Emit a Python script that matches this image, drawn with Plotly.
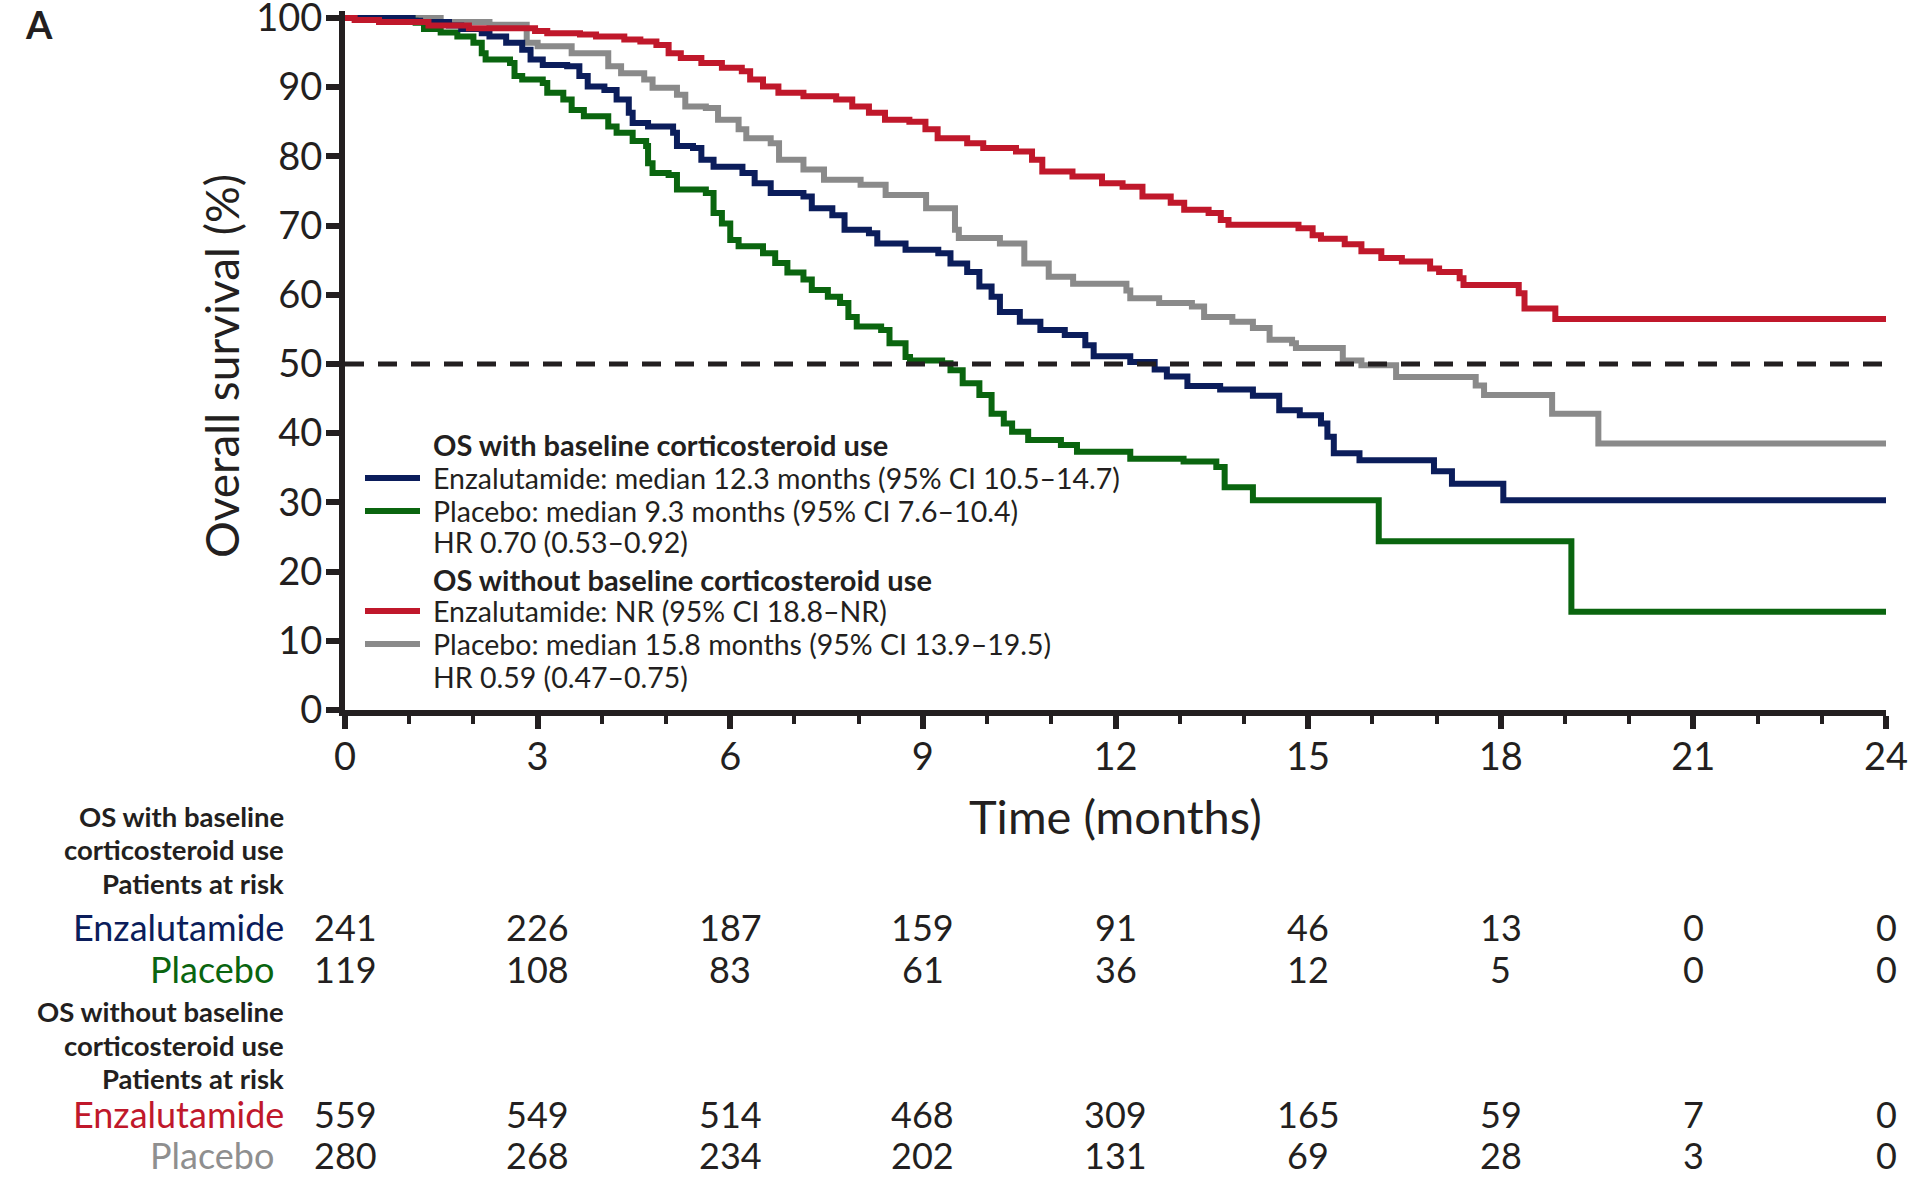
import plotly.graph_objects as go

# ---------------- data ----------------
time_ticks = [0, 3, 6, 9, 12, 15, 18, 21, 24]
y_ticks = [0, 10, 20, 30, 40, 50, 60, 70, 80, 90, 100]
median_level = 50

# OS with baseline corticosteroid use - Enzalutamide
t_enz_cs = [0, 1.05, 1.17, 1.62, 1.81, 2.13, 2.25, 2.51, 2.76, 2.89,
            3.08, 3.46, 3.65, 3.78, 4.04, 4.23, 4.42, 4.48, 4.72, 5.11,
            5.17, 5.42, 5.55, 5.74, 6.19, 6.38, 6.63, 7.14, 7.27, 7.59,
            7.78, 8.16, 8.29, 8.73, 9.24, 9.43, 9.69, 9.88, 10.07, 10.2,
            10.51, 10.83, 11.21, 11.53, 11.66, 12.23, 12.61, 12.8, 13.12, 13.63,
            14.14, 14.55, 14.87, 15.2, 15.3, 15.4, 15.8, 16.96, 17.24, 18.04, 24]
s_enz_cs = [100, 99.6, 99.4, 98.9, 98.4, 97.8, 97.3, 96.4, 95.4, 94.0,
            93.2, 93.0, 91.6, 90.1, 89.6, 88.2, 86.3, 84.8, 84.3, 83.4,
            81.5, 81.2, 79.5, 78.5, 77.6, 76.1, 74.7, 74.2, 72.5, 71.5,
            69.4, 68.9, 67.4, 66.5, 66.0, 64.5, 63.3, 61.2, 59.7, 57.5,
            56.1, 54.9, 54.2, 52.7, 51.1, 50.3, 49.2, 48.2, 46.8, 46.3,
            45.4, 43.3, 42.6, 41.4, 39.5, 37.1, 36.1, 34.5, 32.7, 30.3, 30.3]

# OS with baseline corticosteroid use - Placebo
t_pla_cs = [0, 1.05, 1.1, 1.23, 1.49, 1.75, 2.0, 2.13, 2.19, 2.57,
            2.64, 2.76, 3.08, 3.15, 3.4, 3.53, 3.72, 4.1, 4.23, 4.48,
            4.69, 4.72, 4.79, 5.04, 5.17, 5.62, 5.74, 5.87, 6.0, 6.13,
            6.51, 6.7, 6.89, 7.14, 7.27, 7.52, 7.71, 7.84, 7.97, 8.35,
            8.48, 8.73, 8.8, 9.3, 9.43, 9.62, 9.88, 10.07, 10.26, 10.39,
            10.64, 11.15, 11.4, 12.23, 13.06, 13.57, 13.7, 14.14, 16.1, 19.1, 24]
s_pla_cs = [100, 99.6, 99.3, 98.4, 97.9, 97.3, 96.4, 94.9, 94.0, 93.5,
            91.6, 91.1, 90.6, 89.2, 88.2, 86.7, 85.8, 84.3, 83.4, 82.2,
            81.5, 79.0, 77.6, 77.3, 75.2, 74.7, 71.8, 70.3, 67.9, 67.0,
            66.0, 64.6, 63.2, 62.2, 60.7, 59.7, 58.8, 56.8, 55.4, 54.9,
            53.0, 51.0, 50.5, 50.1, 49.1, 47.2, 45.5, 42.8, 41.4, 40.2,
            39.0, 38.3, 37.3, 36.3, 35.9, 35.1, 32.2, 30.3, 24.4, 14.2, 14.2]

# OS without baseline corticosteroid use - Enzalutamide
t_enz_nocs = [0, 0.15, 0.53, 1.3, 1.93, 2.96, 3.15, 3.66, 3.91, 4.35,
              4.6, 4.85, 5.04, 5.23, 5.55, 5.87, 6.18, 6.31, 6.51, 6.75,
              7.14, 7.65, 7.9, 8.16, 8.41, 8.79, 9.04, 9.23, 9.69, 9.94,
              10.45, 10.7, 10.86, 11.33, 11.79, 12.11, 12.42, 12.86, 13.07, 13.45,
              13.64, 13.76, 14.85, 15.07, 15.2, 15.57, 15.83, 16.14, 16.46, 16.9,
              17.04, 17.36, 17.42, 18.28, 18.37, 18.85, 24]
s_enz_nocs = [100, 99.7, 99.4, 98.9, 98.5, 98.1, 97.8, 97.6, 97.3, 96.9,
              96.6, 96.1, 94.9, 94.2, 93.5, 92.8, 92.3, 91.1, 90.1, 89.2,
              88.7, 88.2, 87.2, 86.3, 85.3, 85.0, 83.9, 82.6, 81.9, 81.2,
              80.7, 79.5, 77.8, 77.1, 76.1, 75.6, 74.2, 73.3, 72.3, 71.8,
              70.8, 70.1, 69.6, 68.6, 68.1, 67.3, 66.3, 65.3, 64.8, 63.8,
              63.3, 62.4, 61.4, 60.2, 58.0, 56.5, 56.5]

# OS without baseline corticosteroid use - Placebo
t_pla_nocs = [0, 1.49, 2.25, 2.83, 3.0, 3.53, 4.1, 4.3, 4.66, 4.79,
              5.17, 5.3, 5.62, 5.81, 6.13, 6.25, 6.63, 6.76, 7.14, 7.46,
              8.03, 8.42, 9.05, 9.5, 9.56, 10.2, 10.58, 10.96, 11.34, 12.17,
              12.23, 12.68, 13.19, 13.38, 13.82, 14.14, 14.4, 14.75, 14.81, 15.54,
              15.83, 16.37, 17.61, 17.74, 18.8, 19.52, 24]
s_pla_nocs = [100, 99.4, 99.0, 96.4, 95.9, 94.9, 93.0, 92.0, 91.1, 89.9,
              88.9, 87.2, 87.0, 85.3, 83.9, 82.6, 81.9, 79.5, 78.1, 76.6,
              75.9, 74.4, 72.5, 69.4, 68.2, 67.4, 64.5, 62.6, 61.6, 60.6,
              59.5, 58.8, 58.3, 56.8, 56.1, 55.2, 53.5, 53.0, 52.3, 50.5,
              49.8, 48.1, 46.9, 45.5, 42.8, 38.5, 38.5]

# Patients at risk
risk_enz_cs = [241, 226, 187, 159, 91, 46, 13, 0, 0]
risk_pla_cs = [119, 108, 83, 61, 36, 12, 5, 0, 0]
risk_enz_nocs = [559, 549, 514, 468, 309, 165, 59, 7, 0]
risk_pla_nocs = [280, 268, 234, 202, 131, 69, 28, 3, 0]

legend_group1 = "OS with baseline corticosteroid use"
legend_enz_cs = "Enzalutamide: median 12.3 months (95% CI 10.5–14.7)"
legend_pla_cs = "Placebo: median 9.3 months (95% CI 7.6–10.4)"
legend_hr1 = "HR 0.70 (0.53–0.92)"
legend_group2 = "OS without baseline corticosteroid use"
legend_enz_nocs = "Enzalutamide: NR (95% CI 18.8–NR)"
legend_pla_nocs = "Placebo: median 15.8 months (95% CI 13.9–19.5)"
legend_hr2 = "HR 0.59 (0.47–0.75)"

# ---------------- style ----------------
NAVY = "#0b1d5b"
GREEN = "#0a650f"
RED = "#c0182b"
GREY = "#8a8a8a"
GREY_TXT = "#8f8f8f"
INK = "#231f20"
FONT = "Lato"

W, H = 1920, 1188
L, R, T, B = 345, 34, 11, 478
PW, PH = W - L - R, H - T - B
Y_MAX = 101


def px_y(p):
    return (H - B - p) / PH


def px_x(p):
    return (p - L) / PW


fig = go.Figure()

curves = [
    (t_pla_nocs, s_pla_nocs, GREY),
    (t_pla_cs, s_pla_cs, GREEN),
    (t_enz_cs, s_enz_cs, NAVY),
    (t_enz_nocs, s_enz_nocs, RED),
]
for t, s, c in curves:
    fig.add_trace(go.Scatter(x=t, y=s, mode="lines",
                             line=dict(color=c, width=6, shape="hv"),
                             showlegend=False, hoverinfo="skip"))

fig.add_trace(go.Scatter(x=[time_ticks[0], time_ticks[-1]], y=[median_level, median_level],
                         mode="lines", line=dict(color=INK, width=5, dash="19px,14px"),
                         showlegend=False, hoverinfo="skip"))

annotations = []
shapes = []

# Legend block (positions in pixels of the plot frame)
leg_text_dx = 86      # px right of the y axis
leg_line_dx0, leg_line_dx1 = 20, 75
legend_rows = [
    (legend_group1, None, 266, True),
    (legend_enz_cs, NAVY, 232, False),
    (legend_pla_cs, GREEN, 199, False),
    (legend_hr1, None, 168, False),
    (legend_group2, None, 131, True),
    (legend_enz_nocs, RED, 99, False),
    (legend_pla_nocs, GREY, 66, False),
    (legend_hr2, None, 33, False),
]
YPX = PH / Y_MAX  # pixels per percent
XPX = PW / 24
for text, col, hpx, bold in legend_rows:
    yv = hpx / YPX
    annotations.append(dict(
        x=leg_text_dx / XPX, y=yv, xref="x", yref="y",
        text=f"<b>{text}</b>" if bold else text, showarrow=False,
        xanchor="left", yanchor="middle",
        font=dict(family=FONT, size=29 if bold else 28.5, color=INK)))
    if col:
        shapes.append(dict(type="line", xref="x", yref="y",
                           x0=leg_line_dx0 / XPX, x1=leg_line_dx1 / XPX,
                           y0=yv, y1=yv,
                           line=dict(color=col, width=6)))

# Axis titles
annotations.append(dict(x=0.5, y=px_y(816), xref="paper", yref="paper",
                        text="Time (months)", showarrow=False,
                        xanchor="center", yanchor="middle",
                        font=dict(family=FONT, size=47, color=INK)))
annotations.append(dict(x=px_x(221), y=px_y(366), xref="paper", yref="paper",
                        text="Overall survival (%)", showarrow=False, textangle=-90,
                        xanchor="center", yanchor="middle",
                        font=dict(family=FONT, size=46, color=INK)))

# Panel letter
annotations.append(dict(x=px_x(23), y=px_y(24), xref="paper", yref="paper",
                        text="<b>A</b>", showarrow=False,
                        xanchor="left", yanchor="middle",
                        font=dict(family=FONT, size=38, color=INK)))

# Risk table
label_right = px_x(286)
headers = [
    ("OS with baseline", 816), ("corticosteroid use", 850), ("Patients at risk", 883),
    ("OS without baseline", 1011), ("corticosteroid use", 1045), ("Patients at risk", 1078),
]
for text, ypx in headers:
    annotations.append(dict(x=label_right, y=px_y(ypx), xref="paper", yref="paper",
                            text=f"<b>{text}</b>", showarrow=False,
                            xanchor="right", yanchor="middle",
                            font=dict(family=FONT, size=27.5, color=INK)))

risk_rows = [
    ("Enzalutamide", NAVY, risk_enz_cs, 927, 286),
    ("Placebo", GREEN, risk_pla_cs, 969, 276),
    ("Enzalutamide", RED, risk_enz_nocs, 1114, 286),
    ("Placebo", GREY_TXT, risk_pla_nocs, 1155, 276),
]
for name, col, vals, ypx, xr in risk_rows:
    annotations.append(dict(x=px_x(xr), y=px_y(ypx), xref="paper", yref="paper",
                            text=name, showarrow=False,
                            xanchor="right", yanchor="middle",
                            font=dict(family=FONT, size=36, color=col)))
    for tx, v in zip(time_ticks, vals):
        annotations.append(dict(x=tx, y=px_y(ypx), xref="x", yref="paper",
                                text=str(v), showarrow=False,
                                xanchor="center", yanchor="middle",
                                font=dict(family=FONT, size=36, color=INK)))

axis_common = dict(showline=True, linewidth=6, linecolor=INK, ticks="outside",
                   ticklen=13, tickwidth=6, tickcolor=INK, showgrid=False,
                   zeroline=False, ticklabeloverflow="allow", automargin=False,
                   tickfont=dict(family=FONT, size=38, color=INK))

fig.update_layout(
    width=W, height=H,
    margin=dict(l=L, r=R, t=T, b=B, autoexpand=False),
    paper_bgcolor="white", plot_bgcolor="white",
    xaxis=dict(range=[0, 24], tickmode="array", tickvals=time_ticks,
               minor=dict(dtick=1, tick0=0, ticks="outside", ticklen=8,
                          tickwidth=4, tickcolor=INK),
               ticklabelstandoff=-5, **axis_common),
    yaxis=dict(range=[0, Y_MAX], tickmode="array", tickvals=y_ticks,
               ticklabelstandoff=-4, **axis_common),
    annotations=annotations,
    shapes=shapes,
    showlegend=False,
)

fig.write_html("out.html", config={"displayModeBar": False},
               post_script="document.body.style.margin='0';")
